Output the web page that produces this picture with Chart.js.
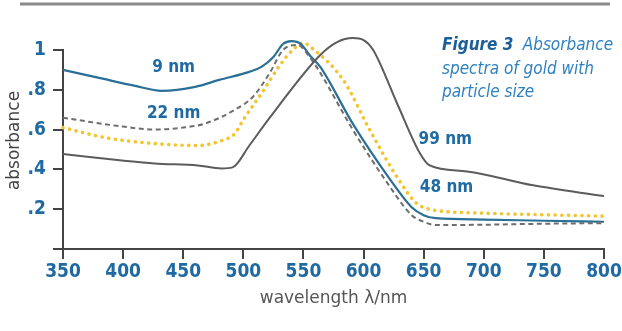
<!DOCTYPE html>
<html><head><meta charset="utf-8">
<script src="https://cdn.jsdelivr.net/npm/chart.js@4.4.1/dist/chart.umd.min.js"></script>
<style>html,body{margin:0;padding:0;background:#fff;}#wrap{width:622px;height:331px;position:relative;}</style>
</head><body><div id="wrap"><canvas id="c" width="622" height="331"></canvas></div>
<script>
// ---- data (wavelength nm / absorbance) ----
const wl9   = [350, 380, 410, 432, 460, 480, 505, 515, 525, 533, 540, 548, 555, 564, 591, 622, 640, 650, 660, 700, 750, 800];
const abs9  = [0.90,0.86,0.82,0.795,0.815,0.85,0.89,0.915,0.965,1.03,1.045,1.03,0.975,0.915,0.63,0.35,0.21,0.17,0.155,0.148,0.142,0.137];

const wl22  = [350, 371, 400, 426, 450, 468, 493, 508, 522, 533, 545, 555, 564, 590, 620, 640, 650, 660, 700, 750, 800];
const abs22 = [0.66,0.64,0.615,0.60,0.61,0.63,0.70,0.765,0.885,1.0,1.025,0.966,0.885,0.61,0.33,0.17,0.137,0.12,0.122,0.127,0.13];

const wl48  = [350, 385, 426, 462, 482, 493, 500, 516, 530, 541, 550, 557, 583, 605, 628, 644, 652, 665, 700, 750, 800];
const abs48 = [0.61,0.56,0.53,0.52,0.545,0.58,0.65,0.79,0.92,1.0,1.035,1.01,0.85,0.60,0.36,0.23,0.205,0.19,0.18,0.172,0.165];

const wl99  = [350, 399, 426, 462, 482, 491, 505, 522, 564, 578, 591, 600, 608, 628, 647, 655, 686, 741, 800];
const abs99 = [0.477,0.445,0.43,0.42,0.405,0.41,0.52,0.66,0.975,1.04,1.06,1.05,1.0,0.73,0.48,0.42,0.39,0.32,0.266];

const seriesNames = ['99 nm', '22 nm', '48 nm', '9 nm'];
const xTicks = [350, 400, 450, 500, 550, 600, 650, 700, 750, 800];
const yTicks = [0, 0.2, 0.4, 0.6, 0.8, 1];
const yTickLabels = ['', '.2', '.4', '.6', '.8', '1'];
const xTitle = 'wavelength λ/nm';
const yTitle = 'absorbance';
const captionBold = 'Figure 3';
const captionLines = ['Absorbance', 'spectra of gold with', 'particle size'];
// curve labels anchored in data coordinates [wavelength, absorbance]
const curveLabels = [['9 nm', 442, 0.91], ['22 nm', 442, 0.683], ['99 nm', 668, 0.548], ['48 nm', 669, 0.31]];

// ---- styling ----
const FF = "'DejaVu Sans Condensed','Liberation Sans Narrow','DejaVu Sans',sans-serif";
const FF2 = "'DejaVu Sans',sans-serif";
const BLUE_TXT = '#1f6aa3';
const AXIS = '#444444';

function pts(xs, ys) { return xs.map((x, i) => ({x: x, y: ys[i]})); }

const extras = {
  id: 'extras',
  afterDraw(chart) {
    const ctx = chart.ctx, xs = chart.scales.x, ys = chart.scales.y, ca = chart.chartArea;
    ctx.save();
    // top rule
    ctx.strokeStyle = '#8a8a8a'; ctx.lineWidth = 3;
    ctx.beginPath(); ctx.moveTo(20, 4); ctx.lineTo(610, 4); ctx.stroke();
    // curve labels
    ctx.fillStyle = BLUE_TXT; ctx.textAlign = 'center'; ctx.textBaseline = 'middle';
    ctx.font = 'bold 17px ' + FF;
    curveLabels.forEach(l => ctx.fillText(l[0], xs.getPixelForValue(l[1]), ys.getPixelForValue(l[2])));
    // caption
    ctx.textAlign = 'left';
    const cx = ca.right - 162;
    ctx.font = 'italic bold 17px ' + FF; ctx.fillStyle = '#1b5f96';
    ctx.fillText(captionBold, cx, 46);
    const bw = ctx.measureText(captionBold + ' ').width + 4;
    ctx.font = 'italic 17px ' + FF; ctx.fillStyle = '#2f80c0';
    ctx.fillText(captionLines[0], cx + bw, 46);
    ctx.fillText(captionLines[1], cx, 70);
    ctx.fillText(captionLines[2], cx, 93);
    // y title
    ctx.save();
    ctx.translate(15, (ca.top + ca.bottom) / 2 - 9);
    ctx.rotate(-Math.PI / 2);
    ctx.textAlign = 'center'; ctx.fillStyle = '#444';
    ctx.font = '17px ' + FF2;
    ctx.fillText(yTitle, 0, 0);
    ctx.restore();
    ctx.restore();
  }
};

new Chart(document.getElementById('c'), {
  type: 'line',
  data: {
    datasets: [
      {label: seriesNames[0], data: pts(wl99, abs99), borderColor: '#5c5c5c', borderWidth: 2, clip: false},
      {label: seriesNames[1], data: pts(wl22, abs22), borderColor: '#6e6e6e', borderWidth: 2, borderDash: [5, 3.5], clip: false},
      {label: seriesNames[3], data: pts(wl9, abs9), borderColor: '#2a6f95', borderWidth: 2.2, clip: false},
      {label: seriesNames[2], data: pts(wl48, abs48), borderColor: '#f3c42e', borderWidth: 3.6, borderDash: [0.1, 6.6], borderCapStyle: 'round', clip: false}
    ]
  },
  options: {
    responsive: false, animation: false, devicePixelRatio: 1,
    layout: {padding: {left: 0, top: 50, right: 18, bottom: 0}},
    elements: {point: {radius: 0}, line: {cubicInterpolationMode: 'monotone', fill: false}},
    plugins: {legend: {display: false}, tooltip: {enabled: false}},
    scales: {
      x: {
        type: 'linear', min: 350, max: 800,
        afterBuildTicks: s => { s.ticks = xTicks.map(v => ({value: v})); },
        afterFit: s => { s.height = 82; s.paddingLeft = 0; s.paddingRight = 0; },
        ticks: {color: BLUE_TXT, font: {family: FF, size: 19, weight: 'bold'}, padding: 2, maxRotation: 0, autoSkip: false},
        grid: {drawOnChartArea: false, drawTicks: true, tickLength: 10, color: AXIS, lineWidth: 2},
        border: {color: AXIS, width: 2},
        title: {display: true, text: xTitle, color: '#555', font: {family: FF2, size: 17}, padding: {top: 0, bottom: 22}}
      },
      y: {
        type: 'linear', min: 0, max: 1,
        afterBuildTicks: s => { s.ticks = yTicks.map(v => ({value: v})); },
        afterFit: s => { s.width = 63; s.paddingTop = 0; s.paddingBottom = 0; },
        ticks: {color: BLUE_TXT, font: {family: FF, size: 19, weight: 'bold'}, padding: 7,
          callback: (v) => { const i = yTicks.findIndex(t => Math.abs(t - v) < 1e-9); return i >= 0 ? yTickLabels[i] : ''; }},
        grid: {drawOnChartArea: false, drawTicks: true, tickLength: 10, color: AXIS, lineWidth: 2},
        border: {color: AXIS, width: 2}
      }
    }
  },
  plugins: [extras]
});
</script></body></html>
